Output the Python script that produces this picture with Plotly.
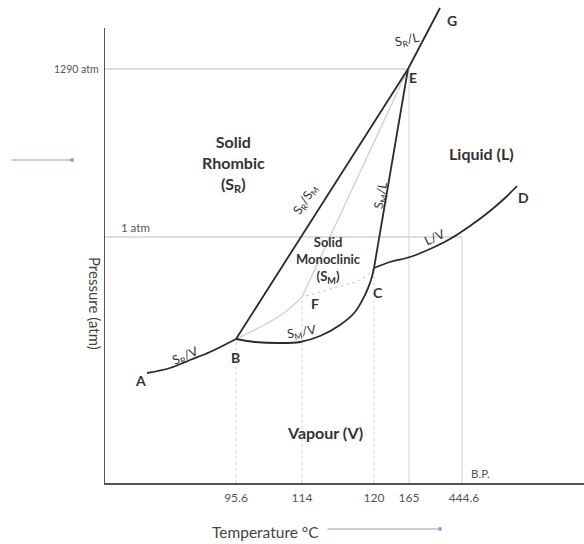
import plotly.graph_objects as go

# Schematic phase diagram of sulphur (positions are schematic units on the axes)
# Key points (x = schematic temperature position, y = schematic pressure position)
pt_names = ["A", "B", "F", "C", "E", "G", "D"]
pt_x = [43, 132, 198, 270, 304, 336, 413]
pt_y = [110, 144, 186, 215, 414, 475, 297]

# Curves
ab_x = [43, 66, 86, 106, 132]                      # S_R / V
ab_y = [110, 115, 123, 131, 144]
bg_x = [132, 304, 336]                             # S_R / S_M  and  S_R / L
bg_y = [144, 414, 475]
bc_x = [132, 151, 176, 196, 216, 236, 251, 261, 267, 270]   # S_M / V
bc_y = [144, 141, 140, 141, 147, 158, 171, 188, 203, 215]
ce_x = [270, 304]                                  # S_M / L
ce_y = [215, 414]
cd_x = [270, 286, 306, 326, 346, 366, 386, 401, 413]        # L / V
cd_y = [215, 221, 226, 234, 244, 257, 272, 285, 297]

# Metastable curves
bf_x = [132, 160, 180, 198]
bf_y = [144, 158, 170, 186]
cf_x = [270, 258, 230, 198]
cf_y = [215, 204, 195, 186]
fe_x = [198, 304]
fe_y = [186, 414]

# Tick labels
x_tickvals = [132, 198, 270, 305, 360]
x_ticktext = ["95.6", "114", "120", "165", "444.6"]
p_high_y = 414
p_high_label = "1290 atm"
one_atm_y = 246
bp_x = 358

dark = "#2b2b2b"
faint = "#cdd3db"
font = "Lato, 'Open Sans', sans-serif"

fig = go.Figure()

def line(x, y, color=dark, width=1.8, dash="solid", shape="spline"):
    fig.add_trace(go.Scatter(x=x, y=y, mode="lines", line=dict(color=color, width=width, dash=dash, shape=shape),
                             hoverinfo="skip", showlegend=False))

# faint guide lines
line([0, pt_x[4]], [p_high_y, p_high_y], color=faint, width=1.3, shape="linear")
line([0, bp_x], [one_atm_y, one_atm_y], color=faint, width=1.3, shape="linear")
line([pt_x[1], pt_x[1]], [0, pt_y[1]], color=faint, width=1, dash="dot", shape="linear")
line([pt_x[2], pt_x[2]], [0, pt_y[2]], color=faint, width=1, dash="dot", shape="linear")
line([pt_x[3], pt_x[3]], [0, pt_y[3]], color=faint, width=1, dash="dot", shape="linear")
line([305, 305], [0, pt_y[4]], color=faint, width=1, shape="linear")
line([bp_x, bp_x], [0, one_atm_y], color=faint, width=1, shape="linear")
# metastable
line(bf_x, bf_y, color=faint, width=1.4)
line(cf_x, cf_y, color=faint, width=1.3, dash="dot")
line(fe_x, fe_y, color=faint, width=1.4, shape="linear")

# main phase boundaries
line(ab_x, ab_y)
line(bg_x, bg_y, shape="linear")
line(bc_x, bc_y)
line(ce_x, ce_y, shape="linear")
line(cd_x, cd_y)

# y-axis line
fig.add_shape(type="line", xref="x", yref="y", x0=0, x1=0, y0=0, y1=455,
              line=dict(color="#555", width=2))

ann = []
def txt(x, y, s, size=12, bold=True, angle=0, color="#333", xref="x", yref="y"):
    ann.append(dict(x=x, y=y, xref=xref, yref=yref, text=(f"<b>{s}</b>" if bold else s), showarrow=False,
                    textangle=angle, xanchor="center", yanchor="middle",
                    font=dict(size=size, color=color, family=font)))

# point labels
txt(36, 103, "A", 14)
txt(131, 126, "B", 14)
txt(211, 180, "F", 14)
txt(274, 191, "C", 14)
txt(309, 406, "E", 14)
txt(348, 463, "G", 14)
txt(419, 286, "D", 14)

# regions
txt(129, 320, "Solid<br>Rhombic<br>(S<sub>R</sub>)", 16)
txt(377, 330, "Liquid (L)", 16)
txt(224, 223, "Solid<br>Monoclinic<br>(S<sub>M</sub>)", 13)
txt(221, 51, "Vapour (V)", 16)

# boundary labels
txt(81, 127, "S<sub>R</sub>/V", 12.5, bold=False, angle=-24)
txt(198, 151, "S<sub>M</sub>/V", 12.5, bold=False, angle=-10)
txt(201, 283, "S<sub>R</sub>/S<sub>M</sub>", 12.5, bold=False, angle=-57)
txt(277, 288, "S<sub>M</sub>/L", 12.5, bold=False, angle=-80)
txt(303, 443, "S<sub>R</sub>/L", 12.5, bold=False, angle=-12)
txt(330, 246, "L/V", 12.5, bold=False, angle=-25)

txt(376, 10, "B.P.", 11.5, bold=False, color="#555")
txt(31, 256, "1 atm", 11.5, bold=False, color="#555")
ann.append(dict(x=(101 - 104) / 480, y=p_high_y, xref="paper", yref="y", text=p_high_label, showarrow=False,
                xanchor="right", yanchor="middle", font=dict(size=10.5, color="#555", family=font)))

# axis titles
txt((95 - 104) / 480, (483 - 303) / 483, "Pressure (atm)", 15, bold=False, angle=90, color="#444",
    xref="paper", yref="paper")
txt((265 - 104) / 480, (483 - 532) / 483, "Temperature °C", 15.5, bold=False, color="#444",
    xref="paper", yref="paper")

# arrows
ann.append(dict(x=(440 - 104) / 480, y=(483 - 529) / 483, xref="paper", yref="paper", ax=-114, ay=0,
                showarrow=True, arrowhead=6, arrowsize=0.8, arrowwidth=1.2, arrowcolor="#8ea3bd", text=""))
ann.append(dict(x=(72 - 104) / 480, y=(483 - 160) / 483, xref="paper", yref="paper", ax=-62, ay=0,
                showarrow=True, arrowhead=6, arrowsize=0.8, arrowwidth=1.2, arrowcolor="#8ea3bd", text=""))

fig.update_layout(
    width=584, height=544,
    margin=dict(l=104, r=0, t=0, b=61),
    paper_bgcolor="white", plot_bgcolor="white",
    annotations=ann,
    showlegend=False,
    xaxis=dict(range=[0, 480], showgrid=False, zeroline=False, showline=True, linecolor="#555", linewidth=2,
               tickvals=x_tickvals, ticktext=x_ticktext, ticks="", ticklabelstandoff=3,
               tickfont=dict(size=12, color="#555", family=font), fixedrange=True),
    yaxis=dict(range=[0, 483], showgrid=False, zeroline=False, showline=False, showticklabels=False,
               ticks="", fixedrange=True),
)

fig.write_html("out.html", config={"displayModeBar": False},
               post_script="document.body.style.margin='0';document.body.style.padding='0';")
